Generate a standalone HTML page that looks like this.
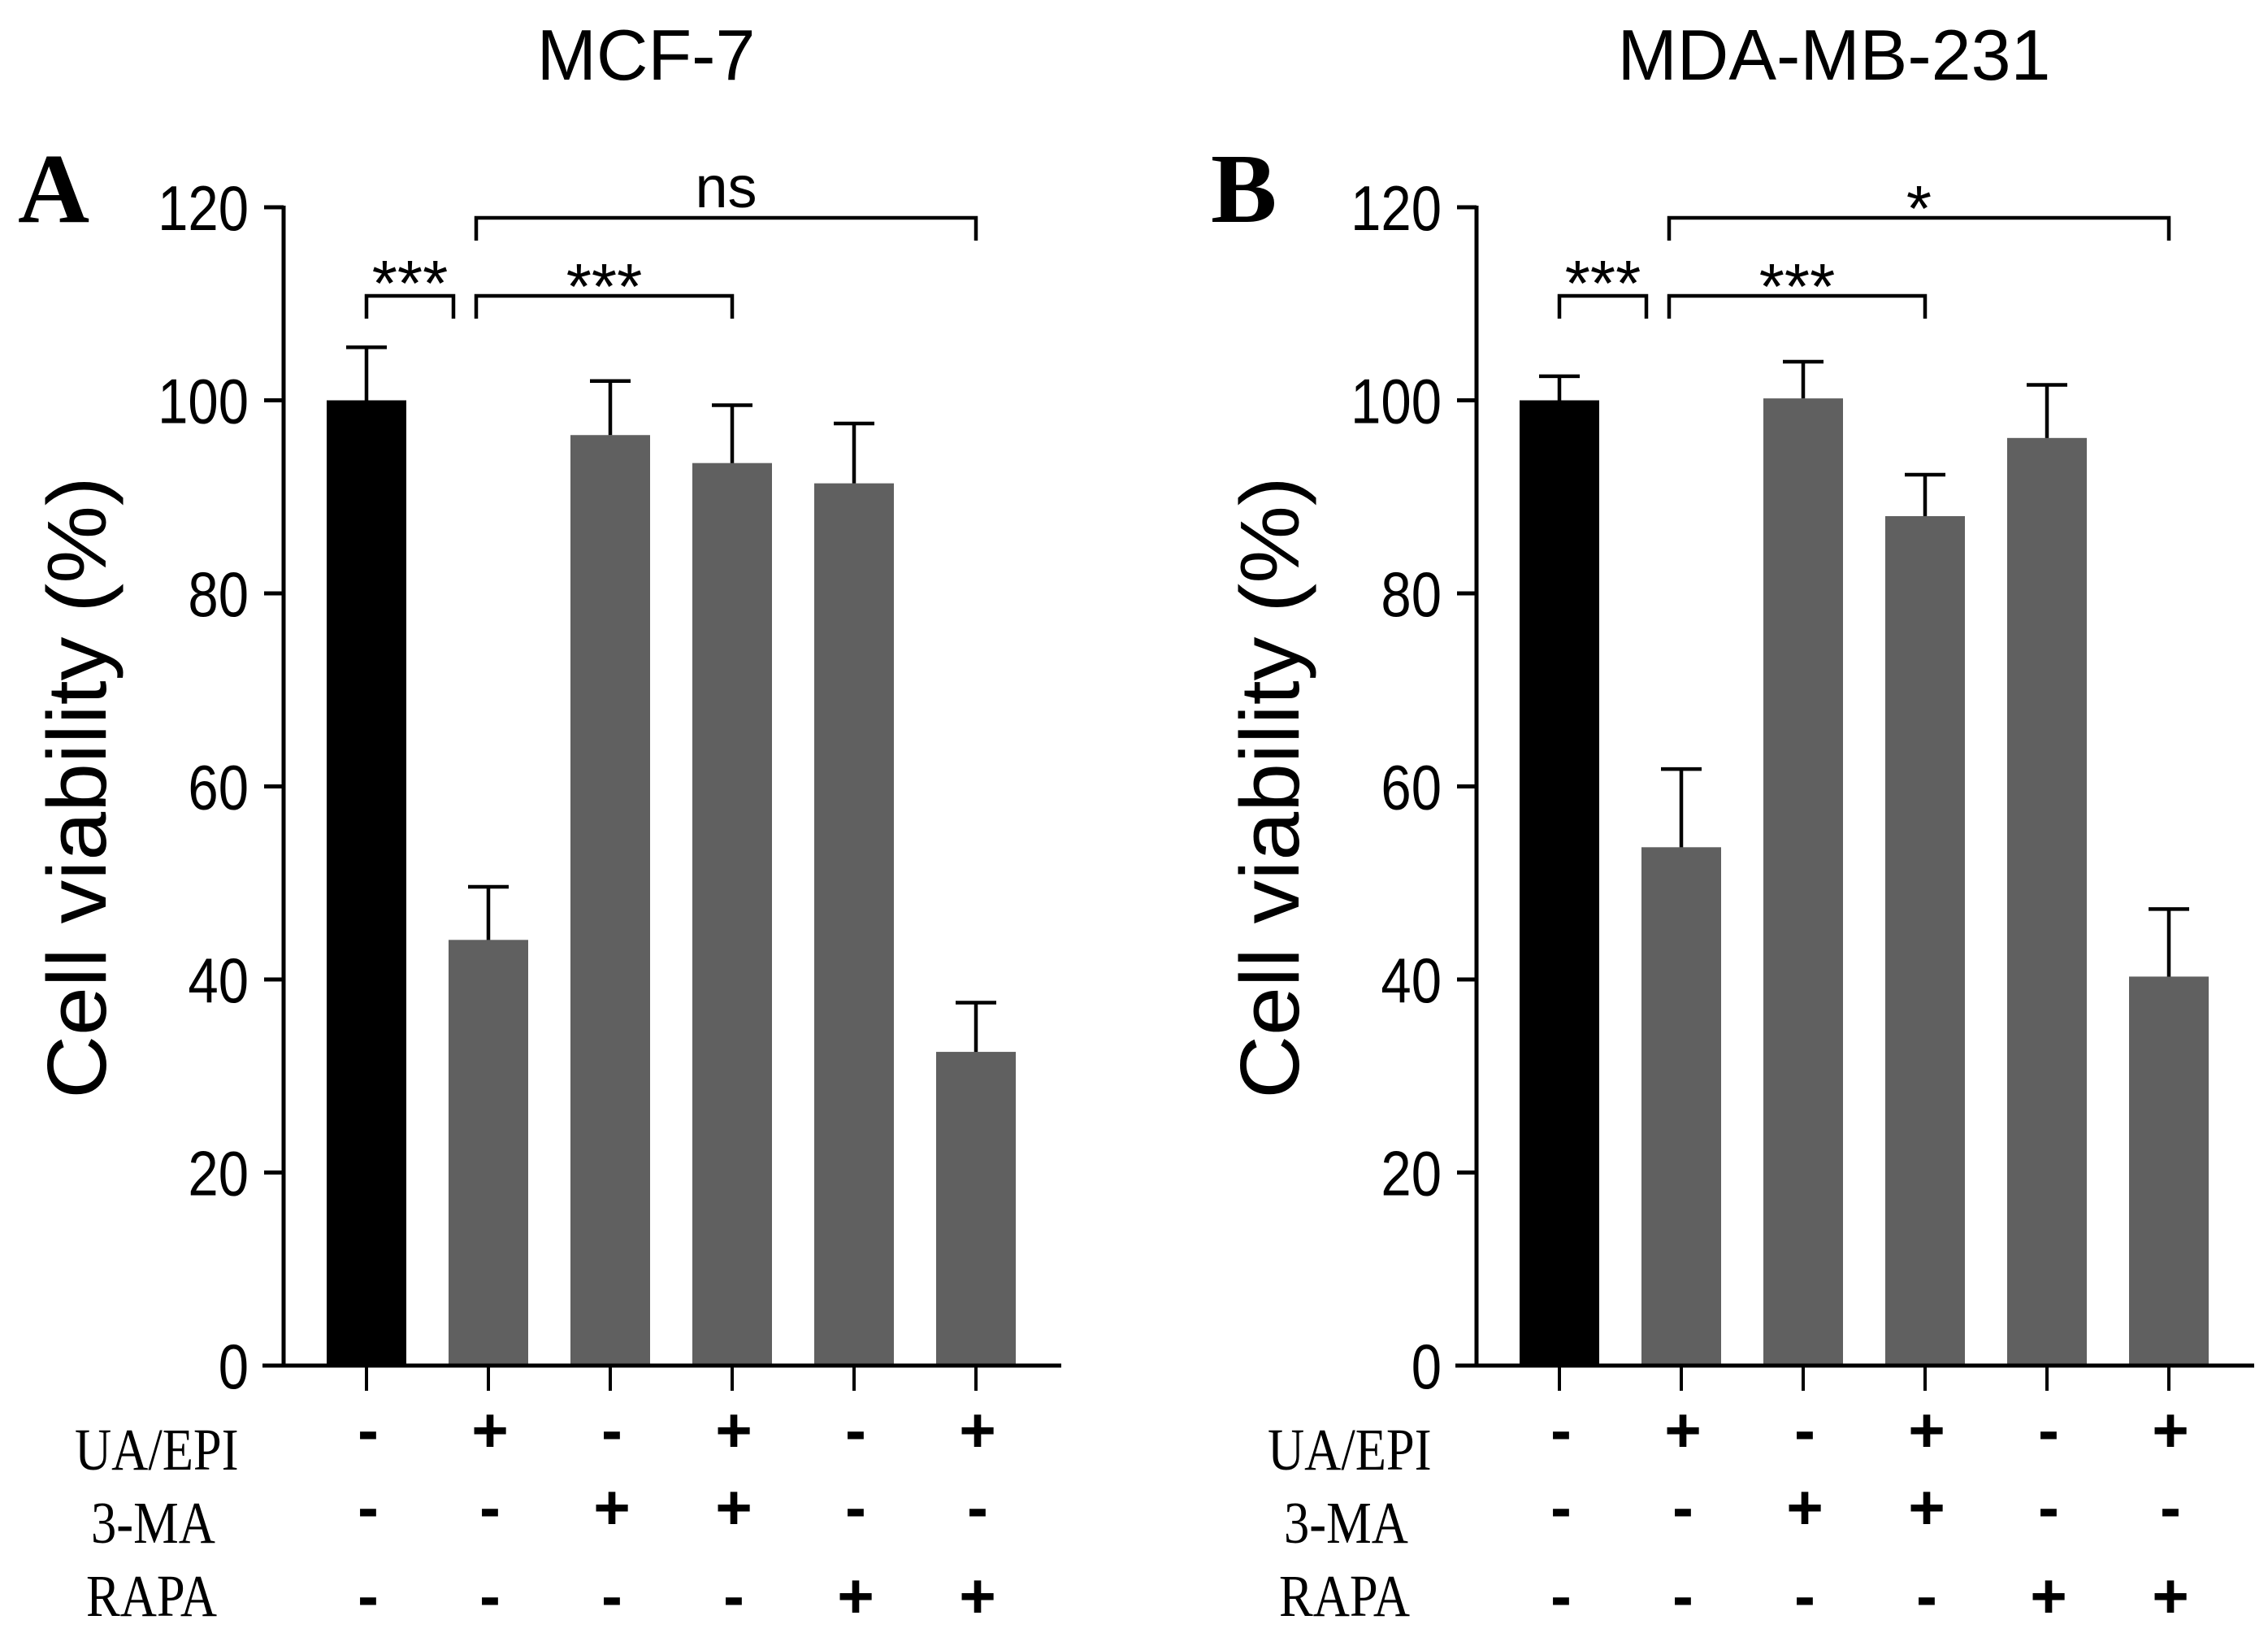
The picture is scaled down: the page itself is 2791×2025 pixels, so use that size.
<!DOCTYPE html>
<html><head><meta charset="utf-8"><style>
html,body{margin:0;padding:0;background:#fff}
svg{display:block}
.sans{font-family:"Liberation Sans",Arial,sans-serif}
.serif{font-family:"Liberation Serif","Times New Roman",serif}
</style></head><body>
<svg id="fig" width="2791" height="2025" viewBox="0 0 2791 2025" xmlns="http://www.w3.org/2000/svg">
<rect width="2791" height="2025" fill="#fff"/>
</svg>
<script>
const categories = ["control","UA/EPI","3-MA","UA/EPI+3-MA","RAPA","UA/EPI+RAPA"];
const valuesA = [100, 44.1, 96.4, 93.5, 91.4, 32.5];
const errTopA = [105.5, 49.6, 102.0, 99.5, 97.6, 37.6];
const valuesB = [100, 53.7, 100.2, 88.0, 96.1, 40.3];
const errTopB = [102.5, 61.8, 104.0, 92.3, 101.6, 47.3];
const yTicks = [0, 20, 40, 60, 80, 100, 120];
const rowNames = ["UA/EPI","3-MA","RAPA"];
const signs = [["-","+","-","+","-","+"],["-","-","+","+","-","-"],["-","-","-","-","+","+"]];
const titles = ["MCF-7","MDA-MB-231"];
const letters = ["A","B"];
const sigA = [[0,1,"***",0],[1,3,"***",0],[1,5,"ns",1]];
const sigB = [[0,1,"***",0],[1,3,"***",0],[1,5,"*",1]];

const NS="http://www.w3.org/2000/svg";
const svg=document.getElementById('fig');
function mk(tag,attrs,parent){const e=document.createElementNS(NS,tag);for(const k in attrs)e.setAttribute(k,attrs[k]);(parent||svg).appendChild(e);return e;}
function yScale(v){return 1680-v*(1680-255)/120;}
function xScale(i,dx){return 451+i*150+dx;}

function panel(dx,vals,errs,sig,title,letter,titleX,pid){
  const g=mk('g',{});
  
  
  const t=mk('text',{x:titleX,y:98,'font-size':88,'text-anchor':'middle',class:'sans'},g);
  t.textContent=title;
  
  
  const L=mk('text',{x:22+dx,y:273,'font-size':122,'font-weight':'bold',class:'serif'},g);
  L.textContent=letter;
  
  
  const yt=mk('text',{x:0,y:0,'font-size':92,'text-anchor':'middle',class:'sans',transform:`translate(${130+dx},969) rotate(-90) scale(1.17,1.12)`},g);
  yt.textContent="Cell viability (%)";
  
  
  vals.forEach((v,i)=>{
    const cx=xScale(i,dx);
    const r=mk('rect',{x:cx-49,y:yScale(v),width:98,height:1680-yScale(v),fill:i===0?'#000':'#606060'},g);
    
    
    const e=mk('path',{d:`M${cx},${yScale(v)}V${yScale(errs[i])}M${cx-25},${yScale(errs[i])}H${cx+25}`,stroke:'#000','stroke-width':4.5,fill:'none'},g);
    
    
  });
  const ax=mk('path',{d:`M${349+dx},253V1680M${323+dx},1680H${1306+dx}`,stroke:'#000','stroke-width':5,fill:'none'},g);
  
  
  yTicks.forEach(v=>{
    const y=yScale(v);
    const tk=mk('path',{d:`M${325+dx},${y}H${349+dx}`,stroke:'#000','stroke-width':5},g);
    
    
    const tl=mk('text',{x:0,y:0,'font-size':78,'text-anchor':'end',class:'sans',transform:`translate(${306+dx},${y+28}) scale(0.86,1)`},g);
    tl.textContent=String(v);
    
    
  });
  categories.forEach((c,i)=>{
    const cx=xScale(i,dx);
    const tk=mk('path',{d:`M${cx},1680V1711`,stroke:'#000','stroke-width':4},g);
    
    
  });
  sig.forEach(s=>{
    const x1=xScale(s[0],dx)+(s[0]===0?0:-15), x2=xScale(s[1],dx)+(s[0]===0?-43:0);
    const y=s[3]?268:364, h=28;
    const b=mk('path',{d:`M${x1},${y+h}V${y}H${x2}V${y+h}`,stroke:'#000','stroke-width':4.5,fill:'none'},g);
    
    
    const st=mk('text',{x:(x1+x2)/2,y:s[2]==="ns"?255:(s[3]?284:(s[0]===0?376:380)),'font-size':s[2]==="ns"?72:80,'text-anchor':'middle',class:'sans'},g);
    st.textContent=s[2];
    
    
  });
  const rowBase=[1808,1898,1988];
  const signBase=[1786,1881,1990];
  rowNames.forEach((n,r)=>{
    const rl=mk('text',{x:0,y:0,'font-size':68,class:'serif',transform:`translate(${[92,112,106][r]+dx},${rowBase[r]}) scale(0.92,1.08)`},g);
    rl.textContent=n;
    
    
    signs[r].forEach((s,i)=>{
      const st=mk('text',{x:xScale(i,dx)+2,y:signBase[r],'font-size':78,'font-weight':'bold','text-anchor':'middle',class:'sans'},g);
      st.textContent=s;
      
      
    });
  });
}
panel(0,valuesA,errTopA,sigA,titles[0],letters[0],795,'a');
panel(1468,valuesB,errTopB,sigB,titles[1],letters[1],2257,'b');
</script>
</body></html>
